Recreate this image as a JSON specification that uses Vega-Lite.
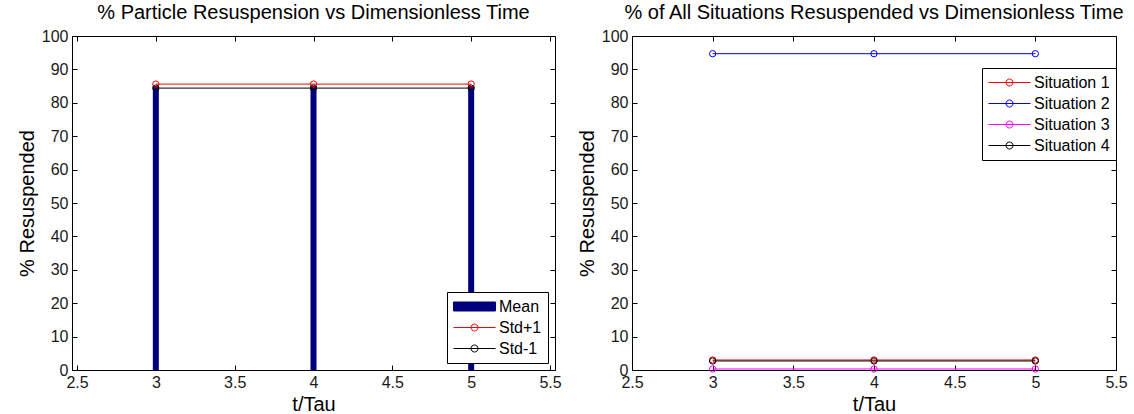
{
  "$schema": "https://vega.github.io/schema/vega-lite/v6.json",
  "background": "white",
  "padding": {"left": 16, "top": 2, "right": 4, "bottom": 2},
  "spacing": 14,
  "resolve": {"scale": {"color": "independent"}, "legend": {"color": "independent"}},
  "config": {
    "font": "Liberation Sans",
    "view": {"stroke": "black", "strokeWidth": 1},
    "axis": {
      "grid": false, "domain": false,
      "labelFont": "Liberation Sans", "labelFontSize": 16, "labelColor": "#1a1a1a",
      "titleFont": "Liberation Sans", "titleFontSize": 20, "titleFontWeight": "normal", "titleColor": "#000",
      "tickColor": "#000", "tickSize": -5, "tickWidth": 1, "labelPadding": 9,
      "labelFlush": false, "labelOverlap": false
    },
    "title": {"font": "Liberation Sans", "fontSize": 20, "fontWeight": "normal", "color": "#000", "offset": 5},
    "legend": {
      "orient": "none", "title": null,
      "strokeColor": "#000", "fillColor": "white", "padding": 6,
      "labelFont": "Liberation Sans", "labelFontSize": 16, "labelColor": "#000",
      "symbolSize": 256, "symbolStrokeWidth": 1, "labelOffset": 29, "rowPadding": 4
    }
  },
  "hconcat": [
    {
      "title": "% Particle Resuspension vs Dimensionless Time",
      "width": 483, "height": 334,
      "data": {"values": [
        {"t": 3, "series": "Mean", "value": 85.0},
        {"t": 4, "series": "Mean", "value": 85.0},
        {"t": 5, "series": "Mean", "value": 85.0},
        {"t": 3, "series": "Std+1", "value": 85.6},
        {"t": 4, "series": "Std+1", "value": 85.6},
        {"t": 5, "series": "Std+1", "value": 85.6},
        {"t": 3, "series": "Std-1", "value": 84.4},
        {"t": 4, "series": "Std-1", "value": 84.4},
        {"t": 5, "series": "Std-1", "value": 84.4}
      ]},
      "resolve": {"axis": {"x": "independent", "y": "independent"}},
      "layer": [
        {
          "transform": [{"filter": "datum.series === 'Mean'"}],
          "mark": {"type": "bar", "size": 6, "strokeWidth": 0},
          "encoding": {
            "x": {"field": "t", "type": "quantitative", "scale": {"domain": [2.5, 5.5], "nice": false, "zero": false},
                  "axis": {"orient": "bottom", "title": "t/Tau", "values": [2.5, 3, 3.5, 4, 4.5, 5, 5.5], "labelExpr": "'' + datum.value"}},
            "y": {"field": "value", "type": "quantitative", "scale": {"domain": [0, 100], "nice": false},
                  "axis": {"orient": "left", "title": "% Resuspended", "values": [0, 10, 20, 30, 40, 50, 60, 70, 80, 90, 100]}},
            "color": {"field": "series", "type": "nominal",
                      "scale": {"domain": ["Mean", "Std+1", "Std-1"], "range": ["#00007f", "#ff0000", "#000000"]},
                      "legend": {"legendX": 375, "legendY": 256,
                        "encode": {"symbols": {"update": {
                          "shape": {"signal": "datum.value === 'Mean' ? 'M-1,-0.5625H4.25V0.5625H-1Z' : 'M-1,0H4.25M1.1875,0A0.4375,0.4375,0,1,0,2.0625,0A0.4375,0.4375,0,1,0,1.1875,0'"},
                          "fill": {"signal": "datum.value === 'Mean' ? '#00007f' : 'transparent'"},
                          "fillOpacity": {"signal": "datum.value === 'Mean' ? 1 : 0"},
                          "stroke": {"signal": "datum.value === 'Std+1' ? '#ff0000' : '#000000'"},
                          "strokeWidth": {"value": 1}
                        }}}}}
          }
        },
        {
          "transform": [{"filter": "datum.series !== 'Mean'"}],
          "mark": {"type": "line", "strokeWidth": 1},
          "encoding": {
            "x": {"field": "t", "type": "quantitative", "axis": {"orient": "top", "labels": false, "title": null, "values": [2.5, 3, 3.5, 4, 4.5, 5, 5.5]}},
            "y": {"field": "value", "type": "quantitative", "axis": {"orient": "right", "labels": false, "title": null, "values": [0, 10, 20, 30, 40, 50, 60, 70, 80, 90, 100]}},
            "color": {"field": "series", "type": "nominal"}
          }
        },
        {
          "transform": [{"filter": "datum.series !== 'Mean'"}],
          "mark": {"type": "point", "shape": "circle", "filled": false, "size": 40, "strokeWidth": 1, "opacity": 1},
          "encoding": {
            "x": {"field": "t", "type": "quantitative", "axis": null},
            "y": {"field": "value", "type": "quantitative", "axis": null},
            "color": {"field": "series", "type": "nominal"}
          }
        }
      ]
    },
    {
      "title": "% of All Situations Resuspended vs Dimensionless Time",
      "width": 484, "height": 334,
      "data": {"values": [
        {"t": 3, "series": "Situation 1", "value": 3.0},
        {"t": 4, "series": "Situation 1", "value": 3.0},
        {"t": 5, "series": "Situation 1", "value": 3.0},
        {"t": 3, "series": "Situation 2", "value": 94.7},
        {"t": 4, "series": "Situation 2", "value": 94.7},
        {"t": 5, "series": "Situation 2", "value": 94.7},
        {"t": 3, "series": "Situation 3", "value": 0.3},
        {"t": 4, "series": "Situation 3", "value": 0.3},
        {"t": 5, "series": "Situation 3", "value": 0.3},
        {"t": 3, "series": "Situation 4", "value": 2.7},
        {"t": 4, "series": "Situation 4", "value": 2.7},
        {"t": 5, "series": "Situation 4", "value": 2.7}
      ]},
      "resolve": {"axis": {"x": "independent", "y": "independent"}},
      "layer": [
        {
          "mark": {"type": "line", "strokeWidth": 1},
          "encoding": {
            "x": {"field": "t", "type": "quantitative", "scale": {"domain": [2.5, 5.5], "nice": false, "zero": false},
                  "axis": {"orient": "bottom", "title": "t/Tau", "values": [2.5, 3, 3.5, 4, 4.5, 5, 5.5], "labelExpr": "'' + datum.value"}},
            "y": {"field": "value", "type": "quantitative", "scale": {"domain": [0, 100], "nice": false},
                  "axis": {"orient": "left", "title": "% Resuspended", "values": [0, 10, 20, 30, 40, 50, 60, 70, 80, 90, 100]}},
            "color": {"field": "series", "type": "nominal",
                      "scale": {"domain": ["Situation 1", "Situation 2", "Situation 3", "Situation 4"], "range": ["#ff0000", "#0000ff", "#ff00ff", "#000000"]},
                      "legend": {"legendX": 350, "legendY": 32,
                        "encode": {"symbols": {"update": {
                          "shape": {"value": "M-1,0H4.25M1.1875,0A0.4375,0.4375,0,1,0,2.0625,0A0.4375,0.4375,0,1,0,1.1875,0"},
                          "fill": {"value": "transparent"},
                          "strokeWidth": {"value": 1}
                        }}}}}
          }
        },
        {
          "mark": {"type": "point", "shape": "circle", "filled": false, "size": 40, "strokeWidth": 1, "opacity": 1},
          "encoding": {
            "x": {"field": "t", "type": "quantitative", "axis": {"orient": "top", "labels": false, "title": null, "values": [2.5, 3, 3.5, 4, 4.5, 5, 5.5]}},
            "y": {"field": "value", "type": "quantitative", "axis": {"orient": "right", "labels": false, "title": null, "values": [0, 10, 20, 30, 40, 50, 60, 70, 80, 90, 100]}},
            "color": {"field": "series", "type": "nominal"}
          }
        }
      ]
    }
  ]
}
